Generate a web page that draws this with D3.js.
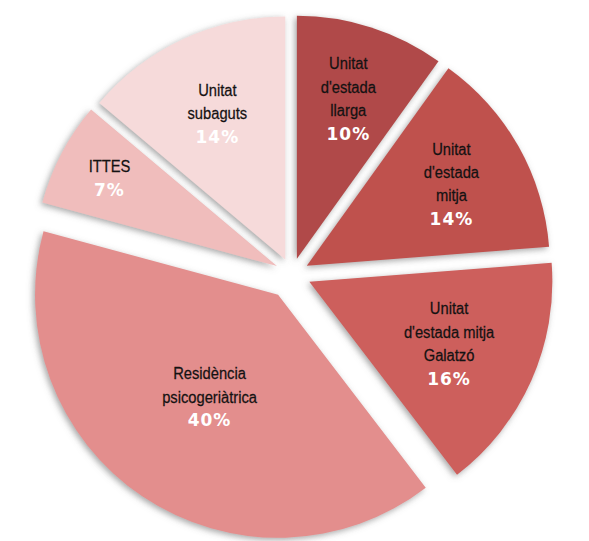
<!DOCTYPE html>
<html>
<head>
<meta charset="utf-8">
<script src="https://cdn.jsdelivr.net/npm/d3@7"></script>
<style>
  html, body { margin: 0; padding: 0; background: #ffffff; }
  svg { display: block; }
</style>
</head>
<body>
<svg id="chart" width="589" height="541"></svg>
<script>
// ---- data ----
const categories = [
  "Unitat d'estada llarga",
  "Unitat d'estada mitja",
  "Unitat d'estada mitja Galatzó",
  "Residència psicogeriàtrica",
  "ITTES",
  "Unitat subaguts"
];
const values = [10, 14, 16, 40, 7, 14];
const labelLines = [
  ["Unitat", "d'estada", "llarga"],
  ["Unitat", "d'estada", "mitja"],
  ["Unitat", "d'estada mitja", "Galatzó"],
  ["Residència", "psicogeriàtrica"],
  ["ITTES"],
  ["Unitat", "subaguts"]
];
const sliceColors = ["#b04a48", "#bf514e", "#cd5e5b", "#e38e8d", "#f0bdbc", "#f6dada"];

// ---- layout (not data) ----
const W = 589, H = 541;
const cx = 292, cy = 274, R = 243;
const explode = [16, 17, 19, 25, 17, 16];
const labelR = [184, 183, 172, 148, 206, 177];
const lineH = 23.5;

const svg = d3.select("#chart");
const defs = svg.append("defs");
const f = defs.append("filter").attr("id", "sh").attr("x", "-20%").attr("y", "-20%").attr("width", "140%").attr("height", "140%");
f.append("feDropShadow").attr("dx", -2).attr("dy", 2).attr("stdDeviation", 3)
  .attr("flood-color", "#6b6b6b").attr("flood-opacity", 0.6);

const data = categories.map((c, i) => ({ name: c, value: values[i], i }));
const pie = d3.pie().value(d => d.value).sort(null).startAngle(0).endAngle(2 * Math.PI);
const arcs = pie(data);
const arc = d3.arc().innerRadius(0).outerRadius(R);

const g = svg.append("g").attr("transform", `translate(${cx},${cy})`);

const slices = g.selectAll("g.slice").data(arcs).enter().append("g")
  .attr("class", "slice")
  .attr("transform", d => {
    const a = (d.startAngle + d.endAngle) / 2;
    const e = explode[d.data.i];
    return `translate(${Math.sin(a) * e},${-Math.cos(a) * e})`;
  });

slices.append("path")
  .attr("d", arc)
  .attr("fill", d => sliceColors[d.data.i])
  .attr("filter", "url(#sh)");

// labels
const labels = g.selectAll("g.lab").data(arcs).enter().append("g")
  .attr("class", "lab")
  .attr("transform", d => {
    const a = (d.startAngle + d.endAngle) / 2;
    const r = labelR[d.data.i];
    return `translate(${Math.sin(a) * r},${-Math.cos(a) * r})`;
  });

labels.each(function(d) {
  const lines = labelLines[d.data.i];
  const n = lines.length + 1;
  const top = -((n - 1) * lineH) / 2;
  const sel = d3.select(this);
  lines.forEach((t, k) => {
    sel.append("text")
      .attr("x", 0).attr("y", top + k * lineH)
      .attr("dy", "0.35em")
      .attr("text-anchor", "middle")
      .attr("font-family", "'Liberation Sans', Arial, sans-serif")
      .attr("font-size", 16)
      .attr("fill", "#141212")
      .attr("stroke", "#141212")
      .attr("stroke-width", 0.25)
      .attr("transform", "scale(0.92,1)")
      .text(t);
  });
  sel.append("text")
    .attr("x", 0).attr("y", top + lines.length * lineH)
    .attr("dy", "0.35em")
    .attr("text-anchor", "middle")
    .attr("font-family", "'DejaVu Sans', Verdana, sans-serif")
    .attr("font-weight", "bold")
    .attr("font-size", 17)
    .attr("letter-spacing", 1)
    .attr("fill", "#ffffff")
    .text(d.data.value + "%");
});
</script>
</body>
</html>
